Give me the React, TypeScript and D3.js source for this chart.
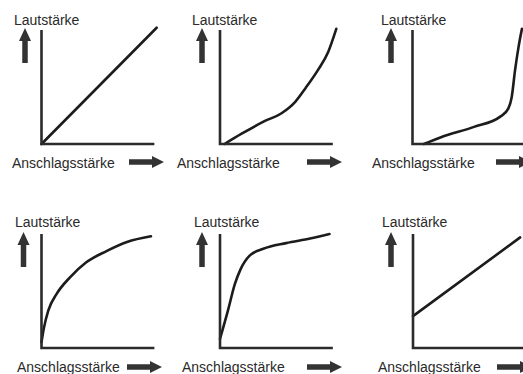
import React from "react";
import * as d3 from "d3";

// Velocity curves: x = Anschlagsstärke (0-100), y = Lautstärke (0-100)
const yLabel = "Lautstärke";
const xLabel = "Anschlagsstärke";

const curveLinear: [number, number][] = [[0, 0], [101, 102]];
const curveExpSoft: [number, number][] = [
  [4, 0], [19, 9], [39, 20], [54, 27], [66, 37], [75, 49], [86, 65], [95, 81], [102, 101],
];
const curveExpHard: [number, number][] = [
  [10, 0], [25, 6], [54, 15], [77, 24], [84, 31], [87, 41], [90, 65], [93, 85], [96, 101],
];
const curveLog: [number, number][] = [
  [0, 5], [2, 17], [6, 33], [13, 47], [25, 62], [39, 75], [57, 85], [75, 93], [96, 98],
];
const curveSteepLog: [number, number][] = [
  [0, 8], [7, 33], [13, 56], [18, 69], [26, 81], [38, 87], [58, 92], [79, 96], [96, 100],
];
const curveOffset: [number, number][] = [[0, 28], [94, 97]];

const curves = [curveLinear, curveExpSoft, curveExpHard, curveLog, curveSteepLog, curveOffset];

// panel placement (pixels)
const panels = [
  { ox: 41.5, oy: 144, lx: 14, ly: 25, ux: 25, uy: 28, ax: 12, ay: 168, rx: 129, ry: 162 },
  { ox: 220, oy: 144, lx: 192, ly: 25, ux: 202, uy: 28, ax: 177, ay: 168, rx: 307, ry: 162 },
  { ox: 412.5, oy: 144, lx: 381, ly: 25, ux: 391, uy: 28, ax: 372, ay: 168, rx: 496, ry: 162 },
  { ox: 41.5, oy: 348, lx: 15, ly: 227, ux: 23.5, uy: 232, ax: 17, ay: 372, rx: 127, ry: 367 },
  { ox: 220, oy: 348, lx: 194, ly: 227, ux: 202, uy: 232, ax: 182, ay: 372, rx: 307, ry: 367 },
  { ox: 413, oy: 348, lx: 382, ly: 227, ux: 391, uy: 232, ax: 378, ay: 372, rx: 497, ry: 367 },
];

const SIZE = 114;
const ink = "#2b2b2b";
const font = "Liberation Sans, Arial, sans-serif";

function upArrow(cx: number, top: number) {
  const len = 35, head = 13, hw = 6, sw = 2.75;
  return `M${cx},${top} L${cx + hw},${top + head} L${cx + sw},${top + head} L${cx + sw},${top + len} L${cx - sw},${top + len} L${cx - sw},${top + head} L${cx - hw},${top + head} Z`;
}

function rightArrow(left: number, cy: number) {
  const len = 35, head = 12, hw = 6, sw = 2.75;
  const tip = left + len;
  return `M${tip},${cy} L${tip - head},${cy - hw} L${tip - head},${cy - sw} L${left},${cy - sw} L${left},${cy + sw} L${tip - head},${cy + sw} L${tip - head},${cy + hw} Z`;
}

function Panel({ p, data }: { p: typeof panels[number]; data: [number, number][] }) {
  const x = d3.scaleLinear().domain([0, 100]).range([p.ox, p.ox + SIZE]);
  const y = d3.scaleLinear().domain([0, 100]).range([p.oy, p.oy - SIZE]);
  const line = d3.line<[number, number]>()
    .x(d => x(d[0]))
    .y(d => y(d[1]))
    .curve(d3.curveMonotoneX);
  return (
    <g>
      <path d={line(data) ?? ""} fill="none" stroke="#1c1c1c" strokeWidth={2.6} strokeLinecap="round" strokeLinejoin="round" />
      <path
        d={`M${x(0)},${y(100)} L${x(0)},${y(0)} L${x(99)},${y(0)}`}
        fill="none" stroke={ink} strokeWidth={2.6}
      />
      <text x={p.lx} y={p.ly} fontSize={14} fill="#2a2a2a" fontFamily={font}>{yLabel}</text>
      <path d={upArrow(p.ux, p.uy)} fill="#333" />
      <text x={p.ax} y={p.ay} fontSize={14} fill="#2a2a2a" fontFamily={font}>{xLabel}</text>
      <path d={rightArrow(p.rx, p.ry)} fill="#333" />
    </g>
  );
}

export default function App() {
  return (
    <svg
      width={523}
      height={374}
      style={{ position: "absolute", left: 0, top: 0, background: "#fff" }}
    >
      {panels.map((p, i) => (
        <Panel key={i} p={p} data={curves[i]} />
      ))}
    </svg>
  );
}
